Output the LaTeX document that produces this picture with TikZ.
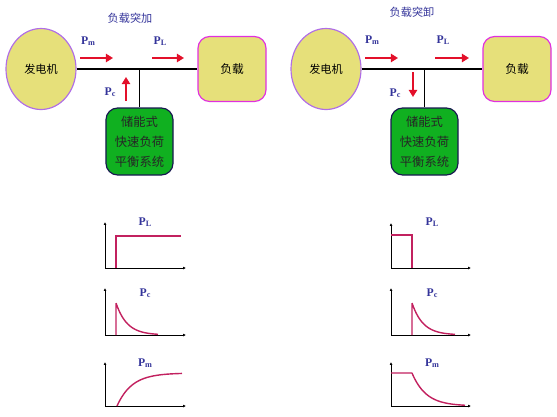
\documentclass[tikz,border=0pt]{standalone}
\usepackage{fontspec}
\newfontfamily\cjk{Noto Sans CJK SC}
\newfontfamily\lbl{Liberation Serif}
\usetikzlibrary{shapes.geometric,arrows.meta}
\definecolor{genfill}{HTML}{E6E07A}
\definecolor{genline}{HTML}{B06EE6}
\definecolor{loadline}{HTML}{E030E0}
\definecolor{essfill}{HTML}{10B020}
\definecolor{essline}{HTML}{181850}
\definecolor{flowred}{HTML}{E3102A}
\definecolor{labblue}{HTML}{34349A}
\definecolor{curvered}{HTML}{C2215F}
\newcommand{\pw}[1]{{\lbl\bfseries P\raisebox{-.1ex}{\fontsize{7}{8}\selectfont #1}}}
\tikzset{
  gen/.style={ellipse,draw=genline,fill=genfill,line width=1pt,inner sep=0pt,
    minimum width=2.1cm,minimum height=2.43cm,font=\cjk\fontsize{9.5}{11}\selectfont},
  loadbox/.style={rounded corners=.35cm,draw=loadline,fill=genfill,line width=1pt,
    minimum width=2.04cm,minimum height=1.95cm,font=\cjk\fontsize{10}{12}\selectfont},
  essbox/.style={rounded corners=.35cm,draw=essline,fill=essfill,line width=1pt,
    minimum width=2.01cm,minimum height=2.01cm,align=center,
    font=\cjk\fontsize{10.5}{17}\selectfont,text=black!85},
  bus/.style={line width=1.3pt},
  flow/.style={draw=flowred,line width=1.6pt,-{Triangle[width=7pt,length=6pt]}},
  lab/.style={text=labblue,inner sep=1pt},
  ttl/.style={text=labblue,font=\cjk\fontsize{9.5}{11}\selectfont},
  ax/.style={line width=.6pt,-{Latex[length=2.5pt,width=2.5pt]}},
  curve/.style={draw=curvered,line width=1.2pt}
}
\begin{document}
\begin{tikzpicture}[x=0.03cm,y=-0.03cm]
\useasboundingbox (0,0) rectangle (557,416);

% load added
\node[ttl] (t1) at (130,18) {负载突加};
\node[gen] (gen1) at (41,69) {发电机};
\node[loadbox] (load1) at (232,69) {负载};
\node[essbox] (ess1) at (139.5,141.5) {储能式\\快速负荷\\平衡系统};
\coordinate (j1) at (ess1.north |- gen1.east);
\draw[bus] (gen1.east) -- (load1.west);
\draw[bus] (j1) -- (ess1.north);
\coordinate (pm1a) at (80,58);  \coordinate (pm1b) at (113,58);
\coordinate (pl1a) at (152,58); \coordinate (pl1b) at (184,58);
\coordinate (pc1a) at (126,101); \coordinate (pc1b) at (126,77);
\draw[flow] (pm1a) -- (pm1b);
\draw[flow] (pl1a) -- (pl1b);
\draw[flow] (pc1a) -- (pc1b);
\node[lab] (lpm1) at (88,41) {\pw{m}};
\node[lab] (lpl1) at (160,41) {\pw{L}};
\node[lab] (lpc1) at (110,92) {\pw{c}};

% load removed
\node[ttl] (t2) at (412,12) {负载突卸};
\node[gen] (gen2) at (326,69) {发电机};
\node[loadbox] (load2) at (517,69) {负载};
\node[essbox] (ess2) at (424.5,141.5) {储能式\\快速负荷\\平衡系统};
\coordinate (j2) at (ess2.north |- gen2.east);
\draw[bus] (gen2.east) -- (load2.west);
\draw[bus] (j2) -- (ess2.north);
\coordinate (pm2a) at (365,58); \coordinate (pm2b) at (398,58);
\coordinate (pl2a) at (435,58); \coordinate (pl2b) at (469,58);
\coordinate (pc2a) at (413,72); \coordinate (pc2b) at (413,97);
\draw[flow] (pm2a) -- (pm2b);
\draw[flow] (pl2a) -- (pl2b);
\draw[flow] (pc2a) -- (pc2b);
\node[lab] (lpm2) at (372,40) {\pw{m}};
\node[lab] (lpl2) at (443,40) {\pw{L}};
\node[lab] (lpc2) at (395,93) {\pw{c}};

% curves, left
\draw[ax] (105,268) -- (105,222);
\draw[ax] (105,268) -- (186,268);
\draw[curve] (116,268) -- (116,236) -- (181,236);
\node[lab] (gl1) at (145,222) {\pw{L}};
\draw[ax] (105,335) -- (105,288);
\draw[ax] (105,335) -- (186,335);
\draw[curve] (116,335) -- (116,303) plot[domain=0:42,samples=30] ({116+\x},{335-32*exp(-\x/11)});
\node[lab] (gc1) at (145,293) {\pw{c}};
\draw[ax] (105,406) -- (105,362);
\draw[ax] (105,406) -- (186,406);
\draw[curve] plot[domain=0:65,samples=40] ({117+\x},{406-33*(1-exp(-\x/15))});
\node[lab] (gm1) at (145,363) {\pw{m}};

% curves, right
\draw[ax] (391,268) -- (391,223);
\draw[ax] (391,268) -- (471,268);
\draw[curve] (391,235) -- (412,235) -- (412,268);
\node[lab] (gl2) at (432,222) {\pw{L}};
\draw[ax] (391,335) -- (391,288);
\draw[ax] (391,335) -- (471,335);
\draw[curve] (412,335) -- (412,303) plot[domain=0:43,samples=30] ({412+\x},{335-32*exp(-\x/11)});
\node[lab] (gc2) at (432,293) {\pw{c}};
\draw[ax] (391,406) -- (391,362);
\draw[ax] (391,406) -- (471,406);
\draw[curve] (391,373) -- (412,373) plot[domain=0:53,samples=40] ({412+\x},{406-33*exp(-\x/14)});
\node[lab] (gm2) at (432,363) {\pw{m}};
\end{tikzpicture}
\end{document}
